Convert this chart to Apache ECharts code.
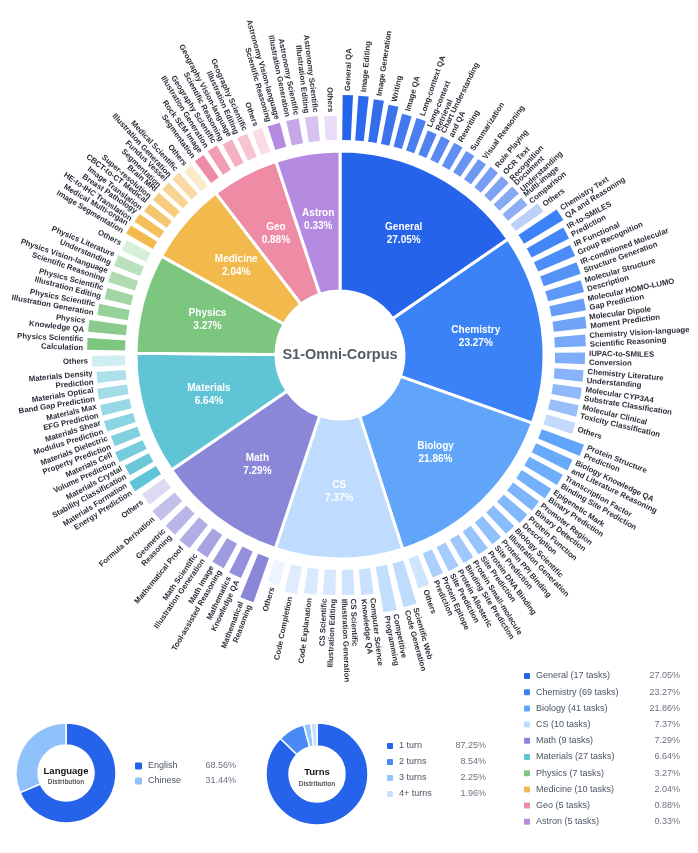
<!DOCTYPE html>
<html>
<head>
<meta charset="utf-8">
<script src="https://cdn.jsdelivr.net/npm/echarts@6/dist/echarts.min.js"></script>
<style>
html, body { margin: 0; padding: 0; background: #fff; }
#main { width: 698px; height: 853px; }
</style>
</head>
<body>
<div id="main"></div>
<script>
// domains of the inner pie
var domainNames = ['General', 'Chemistry', 'Biology', 'CS', 'Math', 'Materials', 'Physics', 'Medicine', 'Geo', 'Astron'];
var domainTasks = [17, 69, 41, 10, 9, 27, 7, 10, 5, 5];
var domainShare = [27.05, 23.27, 21.86, 7.37, 7.29, 6.64, 3.27, 2.04, 0.88, 0.33];
// slice angle of each domain (degrees)
var domainArc = [55.4, 54.1, 52.6, 36.4, 37.2, 34.8, 28.5, 23.5, 19.2, 18.3];
var domainColors = ['#2563eb', '#3b82f6', '#60a5fa', '#bfdbfe', '#8b87d8', '#5fc4d6', '#7cc67f', '#f2b94c', '#ee8ca5', '#b48be0'];

// sub-tasks (outer ring), bar heights
var generalTasks = ['General QA', 'Image Editing', 'Image Generation', 'Writing', 'Image QA', 'Long-context QA',
  'Long-context\nRetrieval', 'Chart Understanding\nand QA', 'Rewriting', 'Summarization', 'Visual Reasoning',
  'Role Playing', 'OCR Text\nRecognition', 'Document\nUnderstanding', 'Multi-image\nComparison', 'Others'];
var generalBars = [45, 45, 43, 40, 34, 34, 26, 26, 26, 25, 25, 26, 26, 26, 25, 34];

var chemistryTasks = ['Chemistry Text\nQA and Reasoning', 'IR-to-SMILES\nPrediction', 'IR Functional\nGroup Recognition',
  'IR-conditioned Molecular\nStructure Generation', 'Molecular Structure\nDescription', 'Molecular HOMO-LUMO\nGap Prediction',
  'Molecular Dipole\nMoment Prediction', 'Chemistry Vision-language\nScientific Reasoning', 'IUPAC-to-SMILES\nConversion',
  'Chemistry Literature\nUnderstanding', 'Molecular CYP3A4\nSubstrate Classification', 'Molecular Clinical\nToxicity Classification', 'Others'];
var chemistryBars = [46, 42, 40, 39, 37, 35, 33, 31, 30, 29, 29, 29, 30];

var biologyTasks = ['Protein Structure\nPrediction', 'Biology Knowledge QA\nand Literature Reasoning', 'Transcription Factor\nBinding Site Prediction',
  'Epigenetic Mark\nBinary Prediction', 'Promoter Region\nBinary Detection', 'Protein Function\nDescription',
  'Biology Scientific\nIllustration Generation', 'Protein PPI Binding\nSite Prediction', 'Protein DNA Binding\nSite Prediction',
  'Protein Small-molecule\nBinding Site Prediction', 'Protein Allosteric\nSite Prediction', 'Protein Epitope\nPrediction', 'Others'];
var biologyBars = [45, 40, 38, 35, 32, 31, 29, 28, 28, 27, 27, 26, 31];

var csTasks = ['Scientific Web\nCode Generation', 'Competitive\nProgramming', 'Computer Science\nKnowledge QA',
  'CS Scientific\nIllustration Generation', 'CS Scientific\nIllustration Editing', 'Code Explanation', 'Code Completion', 'Others'];
var csBars = [45, 46, 26, 25, 25, 26, 28, 23];

var mathTasks = ['Mathematical\nReasoning', 'Mathematics\nKnowledge QA', 'Math Image\nTool-assisted Reasoning',
  'Math Scientific\nIllustration Generation', 'Mathematical Proof', 'Geometric\nReasoning', 'Formula Derivation', 'Others'];
var mathBars = [47, 29, 28, 27, 30, 29, 29, 27];

var materialsTasks = ['Materials Formation\nEnergy Prediction', 'Materials Crystal\nStability Classification', 'Materials Cell\nVolume Prediction',
  'Materials Dielectric\nProperty Prediction', 'Materials Shear\nModulus Prediction', 'Materials Max\nEFG Prediction',
  'Materials Optical\nBand Gap Prediction', 'Materials Density\nPrediction', 'Others'];
var materialsBars = [31, 27, 30, 28, 30, 30, 30, 29, 33];

var physicsTasks = ['Physics Scientific\nCalculation', 'Physics\nKnowledge QA', 'Physics Scientific\nIllustration Generation',
  'Physics Scientific\nIllustration Editing', 'Physics Vision-language\nScientific Reasoning', 'Physics Literature\nUnderstanding', 'Others'];
var physicsBars = [38, 38, 31, 27, 28, 28, 27];

var medicineTasks = ['Medical Multi-organ\nImage Segmentation', 'Breast Pathology\nHE-to-IHC Translation', 'CBCT-to-CT Medical\nImage Translation',
  'Brain MRI\nSuper-resolution', 'Fundus Vessel\nSegmentation', 'Medical Scientific\nIllustration Generation', 'Others'];
var medicineBars = [31, 30, 28, 28, 28, 28, 26];

var geoTasks = ['Rock SEM Image\nSegmentation', 'Geography Scientific\nIllustration Generation', 'Geography Vision-language\nScientific Reasoning',
  'Geography Scientific\nIllustration Editing', 'Others'];
var geoBars = [27, 28, 26, 25, 25];

var astronTasks = ['Astronomy Vision-language\nScientific Reasoning', 'Astronomy Scientific\nIllustration Generation',
  'Astronomy Scientific\nIllustration Editing', 'Others'];
var astronBars = [25, 25, 25, 24];

var subTasks = [generalTasks, chemistryTasks, biologyTasks, csTasks, mathTasks, materialsTasks, physicsTasks, medicineTasks, geoTasks, astronTasks];
var subBars = [generalBars, chemistryBars, biologyBars, csBars, mathBars, materialsBars, physicsBars, medicineBars, geoBars, astronBars];

// small donuts
var langNames = ['English', 'Chinese'];
var langShare = [68.56, 31.44];
var langColors = ['#2563eb', '#8fc1fb'];

var turnNames = ['1 turn', '2 turns', '3 turns', '4+ turns'];
var turnShare = [87.25, 8.54, 2.25, 1.96];
var turnColors = ['#2563eb', '#4a8af4', '#93c5fd', '#c7e0fd'];

var FONT = 'Liberation Sans, Arial, sans-serif';

// build outer ring data: [angleStart, angleEnd, value, domainIdx, taskIdx]
var ringData = [];
var startAt = 0;
domainArc.forEach(function (arc, d) {
  var n = subBars[d].length;
  var step = arc / n;
  subBars[d].forEach(function (v, k) {
    ringData.push([startAt + k * step, startAt + (k + 1) * step, v, d, k]);
  });
  startAt += arc;
});

function barColor(d, k) {
  var n = subBars[d].length;
  var alpha;
  if (subTasks[d][k] === 'Others') alpha = 0.3;
  else alpha = 1 - 0.48 * k / Math.max(1, n - 2);
  return echarts.color.modifyAlpha(domainColors[d], alpha);
}

function renderBar(params, api) {
  var a0 = api.value(0), a1 = api.value(1), v = api.value(2);
  var d = api.value(3), k = api.value(4);
  var cx = params.coordSys.cx, cy = params.coordSys.cy;
  var gap = (a1 - a0) * 0.17;
  var am = (a0 + a1) / 2;
  var pIn = api.coord([0, am]);
  var pOut = api.coord([v, am]);
  var pS = api.coord([v, a0 + gap]);
  var pE = api.coord([v, a1 - gap]);
  var rIn = Math.hypot(pIn[0] - cx, pIn[1] - cy);
  var rOut = Math.hypot(pOut[0] - cx, pOut[1] - cy);
  var th0 = Math.atan2(pS[1] - cy, pS[0] - cx);
  var th1 = Math.atan2(pE[1] - cy, pE[0] - cx);
  var thm = Math.atan2(pOut[1] - cy, pOut[0] - cx);
  if (th1 < th0) th1 += Math.PI * 2;
  var right = am < 180;
  var rl = rOut + 4;
  return {
    type: 'group',
    children: [
      {
        type: 'sector',
        shape: { cx: cx, cy: cy, r0: rIn, r: rOut, startAngle: th0, endAngle: th1, clockwise: true },
        style: { fill: barColor(d, k) }
      },
      {
        type: 'text',
        x: cx + rl * Math.cos(thm),
        y: cy + rl * Math.sin(thm),
        rotation: right ? -thm : Math.PI - thm,
        style: {
          text: subTasks[d][k],
          fill: '#2b2f3a',
          fontSize: 7.8,
          fontWeight: 'bold',
          fontFamily: FONT,
          lineHeight: 9,
          align: right ? 'left' : 'right',
          verticalAlign: 'middle'
        }
      }
    ]
  };
}

function legendRich(nw, pw, fs) {
  return {
    n: { width: nw, fontSize: fs, color: '#4b5563', fontFamily: FONT, lineHeight: 12 },
    p: { width: pw, fontSize: fs, color: '#6b7280', align: 'right', fontFamily: FONT, lineHeight: 12 }
  };
}

var chart = echarts.init(document.getElementById('main'));

var option = {
  animation: false,
  polar: { center: [340, 355], radius: [215, 265] },
  angleAxis: { type: 'value', min: 0, max: 360, startAngle: 90, clockwise: true, show: false },
  radiusAxis: { type: 'value', min: 0, max: 50, show: false },
  legend: [
    {
      data: domainNames,
      orient: 'vertical',
      left: 517, top: 666,
      icon: 'roundRect', itemWidth: 8, itemHeight: 8, itemGap: 6.2,
      selectedMode: false,
      formatter: function (name) {
        var i = domainNames.indexOf(name);
        return '{n|' + name + ' (' + domainTasks[i] + ' tasks)}{p|' + domainShare[i].toFixed(2) + '%}';
      },
      textStyle: { rich: legendRich(104, 40, 9) }
    },
    {
      data: langNames,
      orient: 'vertical',
      left: 128, top: 755.5,
      icon: 'roundRect', itemWidth: 9, itemHeight: 9, itemGap: 4,
      selectedMode: false,
      formatter: function (name) {
        var i = langNames.indexOf(name);
        return '{n|' + name + '}{p|' + langShare[i].toFixed(2) + '%}';
      },
      textStyle: { rich: legendRich(56, 32, 9) }
    },
    {
      data: turnNames,
      orient: 'vertical',
      left: 380, top: 736,
      icon: 'roundRect', itemWidth: 8, itemHeight: 8, itemGap: 6,
      selectedMode: false,
      formatter: function (name) {
        var i = turnNames.indexOf(name);
        return '{n|' + name + '}{p|' + turnShare[i].toFixed(2) + '%}';
      },
      textStyle: { rich: legendRich(55, 32, 9) }
    }
  ],
  graphic: [
    { type: 'text', x: 340, y: 355, style: { text: 'S1-Omni-Corpus', fill: '#555b66', font: 'bold 14.5px ' + FONT, align: 'center', verticalAlign: 'middle', textAlign: 'center', textVerticalAlign: 'middle' } },
    { type: 'text', x: 66, y: 771, style: { text: 'Language', fill: '#111', font: 'bold 9.5px ' + FONT, align: 'center', verticalAlign: 'middle', textAlign: 'center', textVerticalAlign: 'middle' } },
    { type: 'text', x: 66, y: 782, style: { text: 'Distribution', fill: '#555', font: 'bold 6.5px ' + FONT, align: 'center', verticalAlign: 'middle', textAlign: 'center', textVerticalAlign: 'middle' } },
    { type: 'text', x: 317, y: 772, style: { text: 'Turns', fill: '#111', font: 'bold 9.5px ' + FONT, align: 'center', verticalAlign: 'middle', textAlign: 'center', textVerticalAlign: 'middle' } },
    { type: 'text', x: 317, y: 784, style: { text: 'Distribution', fill: '#555', font: 'bold 6.5px ' + FONT, align: 'center', verticalAlign: 'middle', textAlign: 'center', textVerticalAlign: 'middle' } }
  ],
  series: [
    {
      type: 'pie',
      name: 'domains',
      center: [340, 355],
      radius: [64, 204],
      startAngle: 90,
      clockwise: true,
      silent: true,
      avoidLabelOverlap: false,
      itemStyle: { borderColor: '#fff', borderWidth: 3 },
      label: {
        show: true,
        position: 'inside',
        color: '#fff',
        fontSize: 10,
        fontWeight: 'bold',
        fontFamily: FONT,
        lineHeight: 13,
        formatter: function (p) {
          return p.name + '\n' + domainShare[p.dataIndex].toFixed(2) + '%';
        }
      },
      labelLine: { show: false },
      data: domainNames.map(function (name, i) {
        return { name: name, value: domainArc[i], itemStyle: { color: domainColors[i] } };
      })
    },
    {
      type: 'custom',
      coordinateSystem: 'polar',
      silent: true,
      renderItem: renderBar,
      encode: { radius: 2, angle: 0 },
      data: ringData
    },
    {
      type: 'pie',
      center: [66, 773],
      radius: [28, 50],
      startAngle: 90,
      silent: true,
      label: { show: false },
      labelLine: { show: false },
      itemStyle: { borderColor: '#fff', borderWidth: 1.5 },
      data: langNames.map(function (name, i) {
        return { name: name, value: langShare[i], itemStyle: { color: langColors[i] } };
      })
    },
    {
      type: 'pie',
      center: [317, 774],
      radius: [28, 51],
      startAngle: 90,
      silent: true,
      label: { show: false },
      labelLine: { show: false },
      itemStyle: { borderColor: '#fff', borderWidth: 1.5 },
      data: turnNames.map(function (name, i) {
        return { name: name, value: turnShare[i], itemStyle: { color: turnColors[i] } };
      })
    }
  ]
};

chart.setOption(option);
</script>
</body>
</html>
